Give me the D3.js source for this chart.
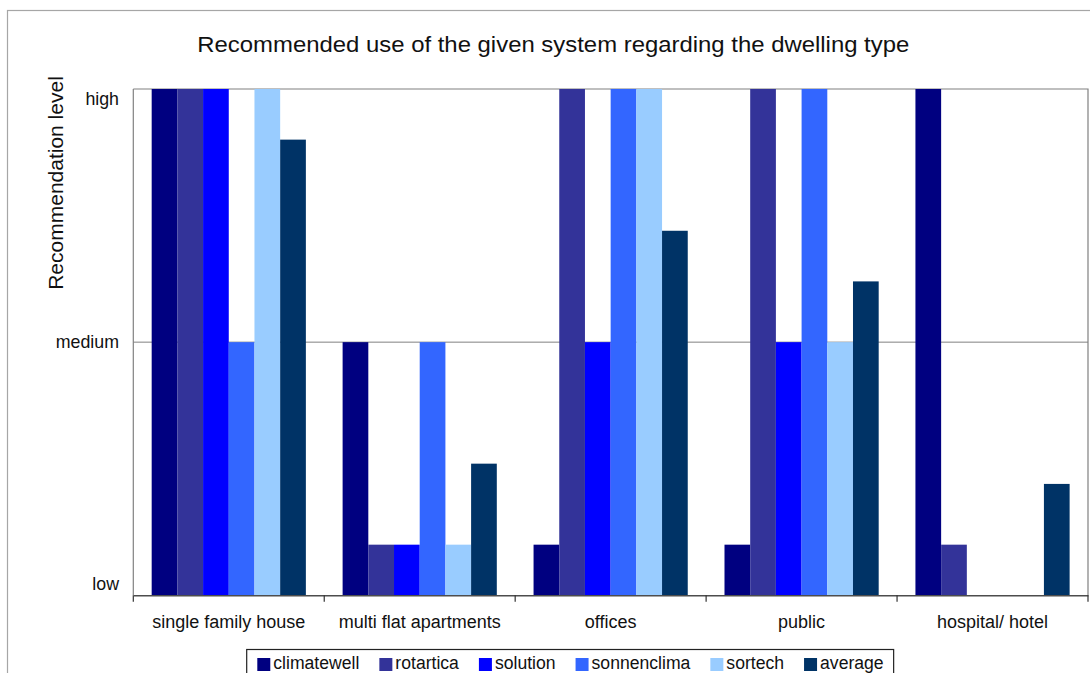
<!DOCTYPE html>
<html>
<head>
<meta charset="utf-8">
<script src="https://cdn.jsdelivr.net/npm/d3@7"></script>
<style>
  html, body { margin: 0; padding: 0; background: #fff; }
  svg { display: block; font-family: "Liberation Sans", Arial, sans-serif; }
</style>
</head>
<body>
<svg id="chart" width="1090" height="673"></svg>
<script>
// Dwelling types along the x axis
const categories = ["single family house", "multi flat apartments", "offices", "public", "hospital/ hotel"];

// Recommendation level per system (0.2 = low, 1 = medium, 2 = high, 0 = not recommended)
const climatewell = [2, 1, 0.2, 0.2, 2];
const rotartica   = [2, 0.2, 2, 2, 0.2];
const solution    = [2, 0.2, 1, 1, 0];
const sonnenclima = [1, 1, 2, 2, 0];
const sortech     = [2, 0.2, 2, 1, 0];
const average     = [1.8, 0.52, 1.44, 1.24, 0.44];

const seriesNames = ["climatewell", "rotartica", "solution", "sonnenclima", "sortech", "average"];
const seriesValues = [climatewell, rotartica, solution, sonnenclima, sortech, average];
const seriesColors = ["#000080", "#333399", "#0000FF", "#3366FF", "#99CCFF", "#003366"];

// Level axis
const levelTicks = [0, 1, 2];
const levelLabels = ["low", "medium", "high"];

const title = "Recommended use of the given system regarding the dwelling type";
const yTitle = "Recommendation level";

const svg = d3.select("#chart");

const plot = { left: 133.3, top: 89, right: 1088, bottom: 595.3 };

// Outer chart frame
svg.append("rect")
  .attr("x", 7.5).attr("y", 10.5)
  .attr("width", 1200).attr("height", 700)
  .attr("fill", "#fff")
  .attr("stroke", "#a6a6a6").attr("stroke-width", 1.2);

const x = d3.scaleBand().domain(categories).range([plot.left, plot.right]).padding(0);
const xs = d3.scaleBand().domain(seriesNames).range([0, x.bandwidth()])
  .paddingInner(0).paddingOuter(0.715);
const y = d3.scaleLinear().domain([0, 2]).range([plot.bottom, plot.top]);

// Gridline at medium level
svg.append("g")
  .selectAll("line")
  .data(levelTicks.filter(t => t > 0 && t < 2))
  .join("line")
  .attr("x1", plot.left).attr("x2", plot.right)
  .attr("y1", d => y(d)).attr("y2", d => y(d))
  .attr("stroke", "#808080").attr("stroke-width", 1);

// Plot area frame (top and right)
svg.append("path")
  .attr("d", `M${plot.left},${plot.top}H${plot.right}V${plot.bottom}`)
  .attr("fill", "none").attr("stroke", "#808080").attr("stroke-width", 1.2);

// Bars
const rows = [];
seriesNames.forEach((s, si) => {
  categories.forEach((c, ci) => {
    rows.push({ series: s, category: c, value: seriesValues[si][ci], color: seriesColors[si] });
  });
});

svg.append("g")
  .selectAll("rect")
  .data(rows.filter(d => d.value > 0))
  .join("rect")
  .attr("x", d => x(d.category) + xs(d.series))
  .attr("width", xs.bandwidth())
  .attr("y", d => y(d.value))
  .attr("height", d => y(0) - y(d.value))
  .attr("fill", d => d.color);

// Left axis line
svg.append("line")
  .attr("x1", plot.left).attr("x2", plot.left)
  .attr("y1", plot.top).attr("y2", plot.bottom)
  .attr("stroke", "#808080").attr("stroke-width", 1.2);

// Bottom axis with ticks at category boundaries
const xAxis = d3.axisBottom(x).tickSize(0).tickFormat("");
const gx = svg.append("g")
  .attr("transform", `translate(0,${plot.bottom})`)
  .call(xAxis);
gx.select(".domain").attr("stroke", "#4d4d4d").attr("stroke-width", 1.5);

const boundaries = categories.map(c => x(c)).concat([x.range()[1]]);
gx.selectAll(".bound")
  .data(boundaries)
  .join("line")
  .attr("class", "bound")
  .attr("x1", d => d).attr("x2", d => d)
  .attr("y1", 0).attr("y2", 6.5)
  .attr("stroke", "#333").attr("stroke-width", 1.2);

// Category labels
svg.append("g")
  .selectAll("text")
  .data(categories)
  .join("text")
  .attr("x", d => x(d) + x.bandwidth() / 2)
  .attr("y", 628)
  .attr("text-anchor", "middle")
  .attr("font-size", 18)
  .attr("fill", "#111")
  .text(d => d);

// Level labels, set slightly inward from the plot edges
const mid = y(1);
svg.append("g")
  .selectAll("text")
  .data(levelTicks)
  .join("text")
  .attr("x", 119)
  .attr("y", d => mid + (y(d) - mid) * 0.958)
  .attr("dy", "0.32em")
  .attr("text-anchor", "end")
  .attr("font-size", 17.8)
  .attr("fill", "#111")
  .text((d, i) => levelLabels[i]);

// Axis title
svg.append("text")
  .attr("transform", "translate(63,183) rotate(-90)")
  .attr("text-anchor", "middle")
  .attr("font-size", 21)
  .attr("fill", "#111")
  .text(yTitle);

// Chart title
svg.append("text")
  .attr("x", 553.3)
  .attr("y", 52)
  .attr("text-anchor", "middle")
  .attr("font-size", 22)
  .attr("textLength", 712)
  .attr("lengthAdjust", "spacingAndGlyphs")
  .attr("fill", "#111")
  .text(title);

// Legend
const legend = svg.append("g");
const legendBox = legend.append("rect")
  .attr("y", 649.5).attr("height", 40)
  .attr("fill", "#fff").attr("stroke", "#222").attr("stroke-width", 1.2);

let lx = 257.3;
seriesNames.forEach((s, i) => {
  legend.append("rect")
    .attr("x", lx).attr("y", 658)
    .attr("width", 13).attr("height", 13)
    .attr("fill", seriesColors[i]);
  const t = legend.append("text")
    .attr("x", lx + 16).attr("y", 669)
    .attr("font-size", 17.6)
    .attr("fill", "#111")
    .text(s);
  lx += 16 + t.node().getComputedTextLength() + 20;
});
legendBox.attr("x", 246.7).attr("width", (lx - 20 + 10) - 246.7);
</script>
</body>
</html>
